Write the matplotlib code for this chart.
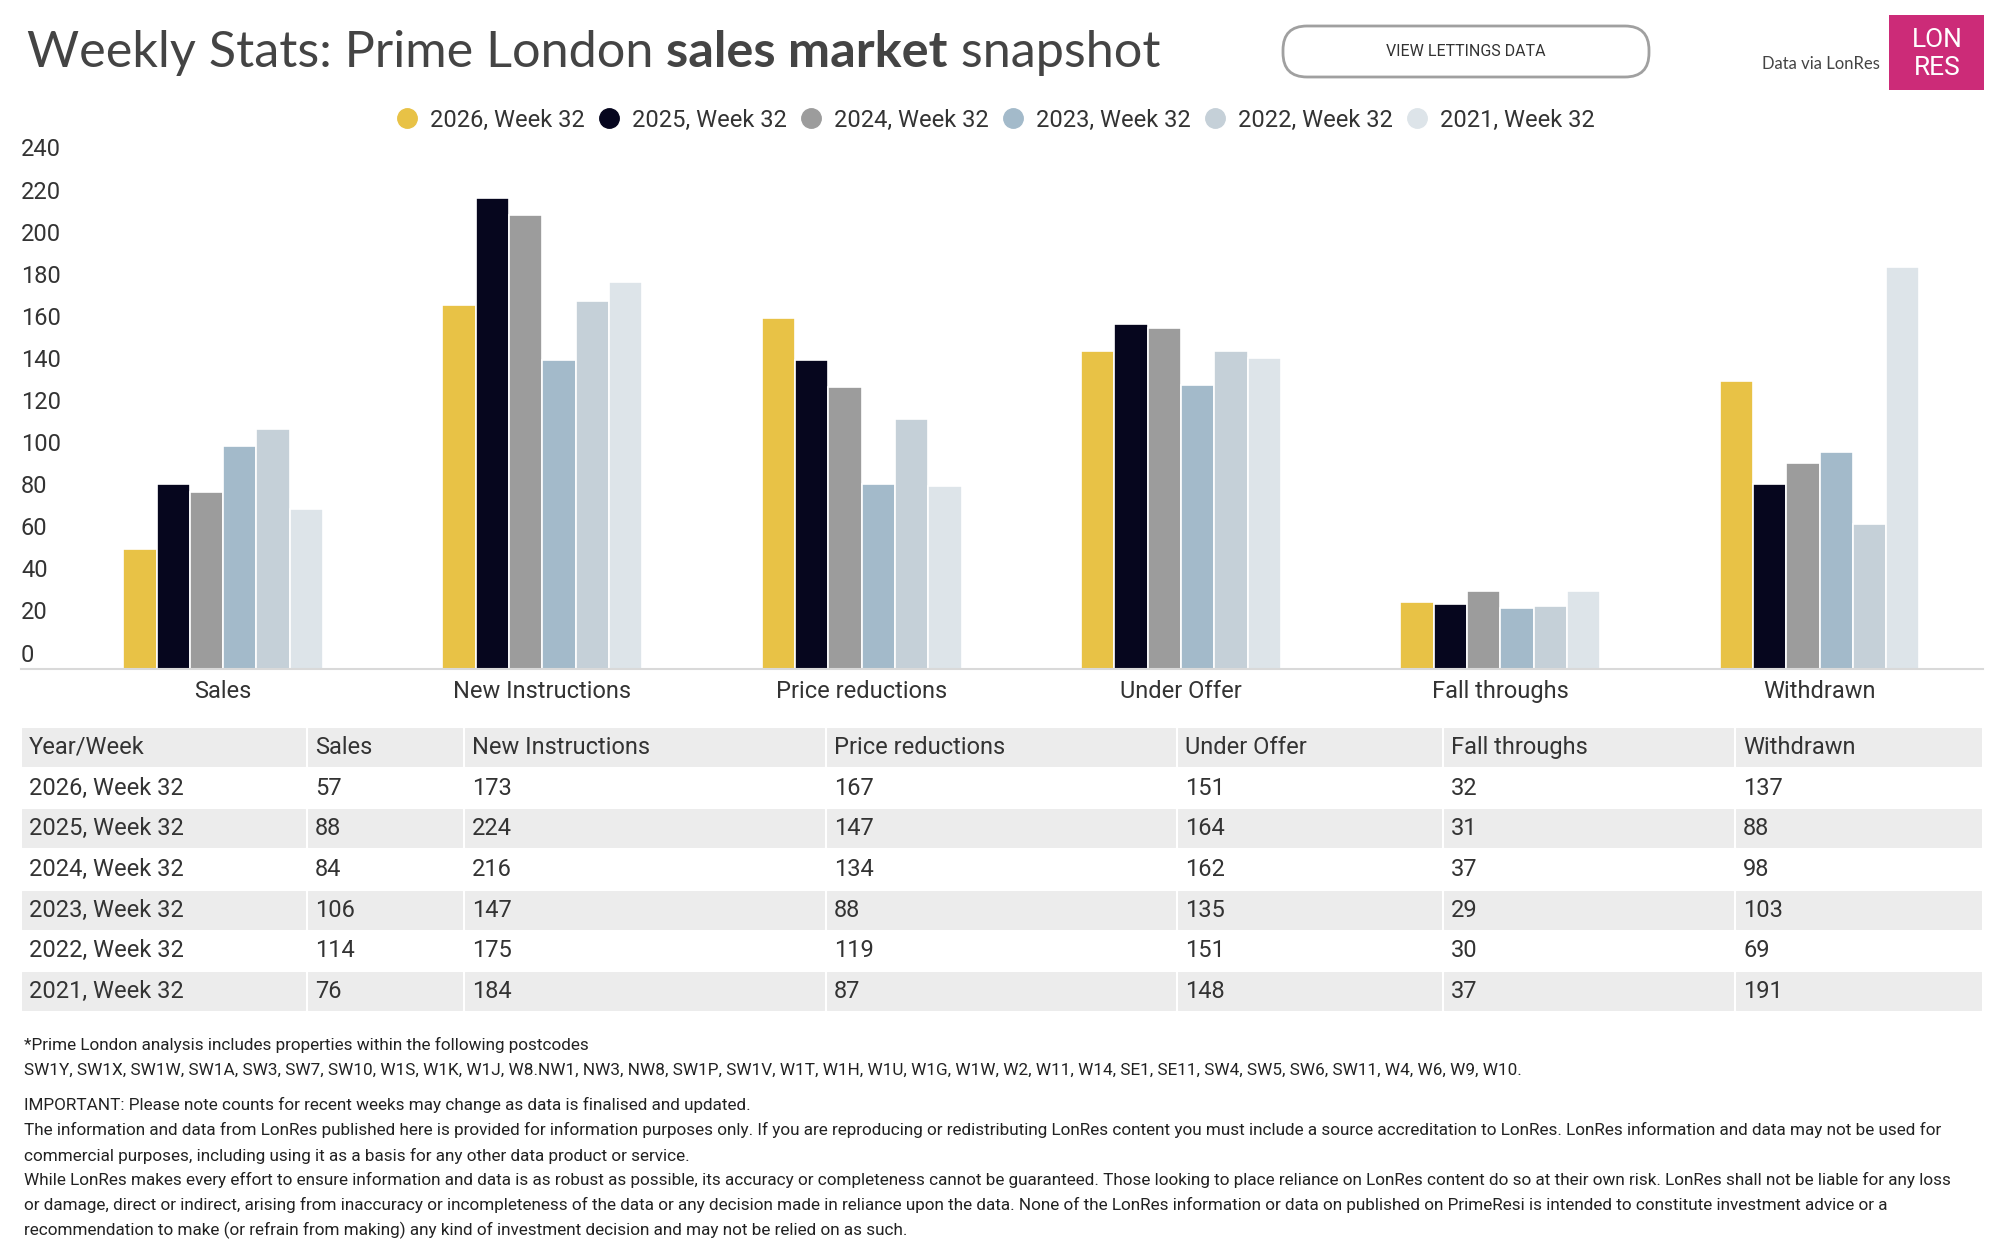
import numpy as np
import matplotlib
matplotlib.use("Agg")
import matplotlib.pyplot as plt
import matplotlib.transforms as mtransforms
from matplotlib.lines import Line2D
from matplotlib.patches import FancyBboxPatch, Rectangle

plt.rcParams['font.family'] = ['Roboto', 'DejaVu Sans']

# data
categories = ["Sales", "New Instructions", "Price reductions", "Under Offer", "Fall throughs", "Withdrawn"]
years = ["2026, Week 32", "2025, Week 32", "2024, Week 32", "2023, Week 32", "2022, Week 32", "2021, Week 32"]
v2026 = [57, 173, 167, 151, 32, 137]
v2025 = [88, 224, 147, 164, 31, 88]
v2024 = [84, 216, 134, 162, 37, 98]
v2023 = [106, 147, 88, 135, 29, 103]
v2022 = [114, 175, 119, 151, 30, 69]
v2021 = [76, 184, 87, 148, 37, 191]
series = [v2026, v2025, v2024, v2023, v2022, v2021]
colors = ["#E8C246", "#06061E", "#9C9C9C", "#A3BACA", "#C5D0D8", "#DDE4E9"]
yticks = list(range(0, 241, 20))

W, H = 2000, 1244
fig = plt.figure(figsize=(W / 100, H / 100), dpi=100)
txt = "#333333"

# --- bar chart ---
ax = fig.add_axes([21 / W, 1 - 669 / H, 1962 / W, (669 - 164) / H])
x = np.arange(len(categories))
bw = 0.1043
for i, vals in enumerate(series):
    ax.bar(x + (i - 2.5) * bw, vals, width=bw, color=colors[i],
           edgecolor="white", linewidth=1.2, label=years[i], zorder=2)
ax.set_xlim(-0.633, 5.512)
ax.set_ylim(0, 240)
ax.set_yticks(yticks)
ax.set_xticks(x)
ax.set_xticklabels(categories, fontsize=17, color=txt)
ax.tick_params(axis="x", length=0, pad=8)
ax.tick_params(axis="y", length=0, pad=0, labelsize=17, labelcolor=txt)
up = mtransforms.ScaledTranslation(0, 2.5 / 100, fig.dpi_scale_trans)
for lbl in ax.get_yticklabels():
    lbl.set_horizontalalignment("left")
    lbl.set_verticalalignment("bottom")
    lbl.set_transform(lbl.get_transform() + up)
for s in ["top", "right", "left"]:
    ax.spines[s].set_visible(False)
ax.spines["bottom"].set_color("#d9d9d9")
ax.spines["bottom"].set_linewidth(1.5)
ax.spines["bottom"].set_zorder(3)

# legend
handles = [Line2D([], [], marker="o", linestyle="", markersize=14,
                  markerfacecolor=c, markeredgecolor=c) for c in colors]
fig.legend(handles, years, loc="center", bbox_to_anchor=(0.4975, 1 - 120 / H),
           ncol=6, frameon=False, fontsize=17, handlelength=1.0,
           handletextpad=0.45, columnspacing=0.55, labelcolor=txt)

# --- table ---
tax = fig.add_axes([21 / W, 1 - 1012 / H, 1962 / W, (1012 - 727) / H])
tax.axis("off")
col_px = [286, 157, 362, 351, 266, 292, 248]
header = ["Year/Week"] + categories
rows = [[years[r]] + [str(series[r][c]) for c in range(len(categories))] for r in range(len(years))]
gray = "#ECECEC"
row_cols = [["white" if r % 2 == 0 else gray] * 7 for r in range(len(years))]
tbl = tax.table(cellText=rows, colLabels=header, colWidths=[w / sum(col_px) for w in col_px],
                cellColours=row_cols, colColours=[gray] * 7, cellLoc="left", colLoc="left",
                loc="center", bbox=[0, 0, 1, 1])
tbl.auto_set_font_size(False)
tbl.set_fontsize(17)
for (r, c), cell in tbl.get_celld().items():
    cell.set_edgecolor("white")
    cell.set_linewidth(1.5)
    cell.PAD = 8 / col_px[c]
    cell.get_text().set_color(txt)

# --- title ---
renderer = fig.canvas.get_renderer()
tx = 27
ty = 1 - 67 / H
parts = [("Weekly Stats: Prime London ", "normal"), ("sales market", "bold"), (" snapshot", "normal")]
for s, wgt in parts:
    t = fig.text(tx / W, ty, s, fontsize=36.3, family=["Lato", "DejaVu Sans"], weight=wgt,
                 color="#444444", va="baseline", ha="left")
    bb = t.get_window_extent(renderer)
    tx += bb.width

# button
btn = FancyBboxPatch((12.83, 11.67), 3.66, 0.51, boxstyle="round,pad=0,rounding_size=0.24",
                     transform=fig.dpi_scale_trans, facecolor="white",
                     edgecolor="#a0a0a0", linewidth=2)
fig.patches.append(btn)
fig.text(14.66, 11.925, "VIEW LETTINGS DATA", transform=fig.dpi_scale_trans,
         fontsize=11.5, color=txt, ha="center", va="center")

# source + logo
fig.text(18.80, 11.80, "Data via LonRes", transform=fig.dpi_scale_trans, fontsize=12,
         family=["Lato", "DejaVu Sans"], color="#444444", ha="right", va="center")
logo = Rectangle((18.89, 11.54), 0.95, 0.75, transform=fig.dpi_scale_trans,
                 facecolor="#CC2B78", edgecolor="none")
fig.patches.append(logo)
fig.text(19.37, 12.04, "LON", transform=fig.dpi_scale_trans, fontsize=19,
         color="white", ha="center", va="center")
fig.text(19.37, 11.76, "RES", transform=fig.dpi_scale_trans, fontsize=19,
         color="white", ha="center", va="center")

# footnotes
notes = [
    (1045, "*Prime London analysis includes properties within the following postcodes"),
    (1070, "SW1Y, SW1X, SW1W, SW1A, SW3, SW7, SW10, W1S, W1K, W1J, W8.NW1, NW3, NW8, SW1P, SW1V, W1T, W1H, W1U, W1G, W1W, W2, W11, W14, SE1, SE11, SW4, SW5, SW6, SW11, W4, W6, W9, W10."),
    (1105, "IMPORTANT: Please note counts for recent weeks may change as data is finalised and updated."),
    (1130, "The information and data from LonRes published here is provided for information purposes only. If you are reproducing or redistributing LonRes content you must include a source accreditation to LonRes. LonRes information and data may not be used for"),
    (1156, "commercial purposes, including using it as a basis for any other data product or service."),
    (1180, "While LonRes makes every effort to ensure information and data is as robust as possible, its accuracy or completeness cannot be guaranteed. Those looking to place reliance on LonRes content do so at their own risk. LonRes shall not be liable for any loss"),
    (1205, "or damage, direct or indirect, arising from inaccuracy or incompleteness of the data or any decision made in reliance upon the data. None of the LonRes information or data on published on PrimeResi is intended to constitute investment advice or a"),
    (1230, "recommendation to make (or refrain from making) any kind of investment decision and may not be relied on as such."),
]
for yy, s in notes:
    fig.text(24 / W, 1 - yy / H, s, fontsize=12.3, color="#222222", ha="left", va="center")

fig.savefig("out.png", dpi=100, facecolor="white")
